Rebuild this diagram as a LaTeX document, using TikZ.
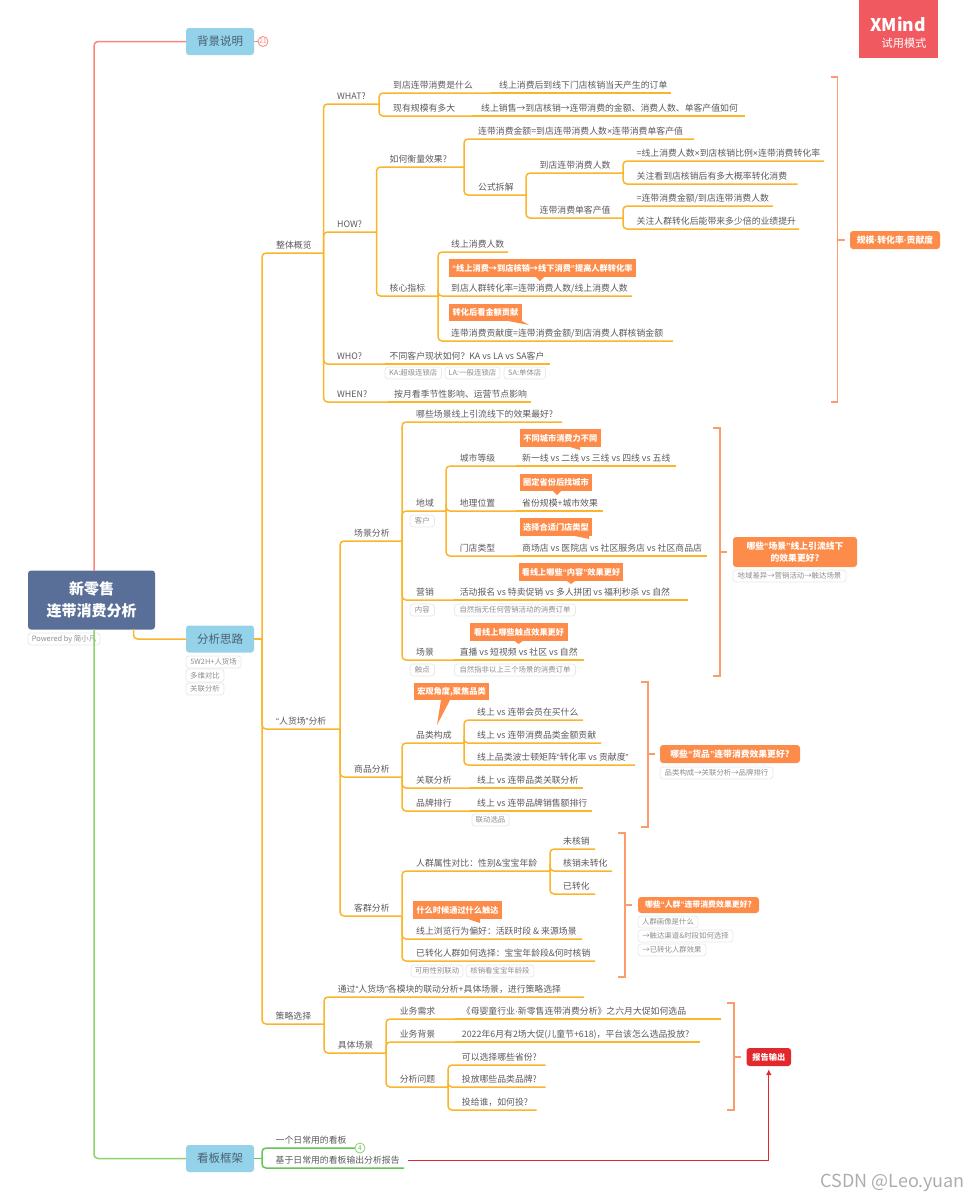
\documentclass[tikz,border=0pt]{standalone}
\usepackage{fontspec}
\usetikzlibrary{arrows.meta}
\setmainfont{Noto Sans CJK SC}
\newfontfamily\latf{Liberation Sans}
\definecolor{ora}{HTML}{FBB52A}
\definecolor{txtc}{HTML}{5A5A5A}
\definecolor{tagc}{HTML}{8E8E8E}
\definecolor{tagb}{HTML}{E8E8E8}
\definecolor{bluebox}{HTML}{93D2E8}
\definecolor{boxt}{HTML}{4A6072}
\definecolor{rootc}{HTML}{5A6F98}
\definecolor{lab}{HTML}{FD8C4A}
\definecolor{brkc}{HTML}{FB9C6C}
\definecolor{redc}{HTML}{E2282D}
\definecolor{topred}{HTML}{F9867A}
\definecolor{topgreen}{HTML}{8AD46C}
\definecolor{grn}{HTML}{62C650}
\definecolor{xm}{HTML}{F0595F}
\newcommand\qo{{\latf “}}
\newcommand\qc{{\latf ”}}
\newcommand\xx{{\latf ×}}
\newcommand\dotm{{\latf ·}}
\newcommand\fwc{\char"FF0C\relax}
\newcommand\fwq{\char"FF1F\relax}
\newcommand\fwk{\char"FF1A\relax}
\newcommand\topic[5]{\node[txt] (#1) at (#2,#3-8) {#5}; \coordinate (#1-e) at (#4,#3);}
\newcommand\link[2]{\draw[conn] (#1-e) |- (#2-e);}
\newcommand\flatl[2]{\draw[conn] (#1-e) -- (#2-e);}
\newcommand\tagb[6]{\node[tagbox,minimum width={(#3-#2)*1pt},minimum height={(#5-#4)*1pt}] (#1) at ({(#2+#3)/2},{(#4+#5)/2}) {#6};}
\newcommand\calb[6]{\node[callout,minimum width={(#3-#2)*1pt},minimum height={(#5-#4)*1pt}] (#1) at ({(#2+#3)/2},{(#4+#5)/2}) {#6};}
\newcommand\slab[6]{\node[sumlab,minimum width={(#3-#2)*1pt},minimum height={(#5-#4)*1pt}] (#1) at ({(#2+#3)/2},{(#4+#5)/2}) {#6};}
\newcommand\brk[6]{\draw[brkl] (#1,#3) -- (#2,#3) -- (#2,#4) -- (#1,#4); \draw[brkl] (#2,#5) -- ++(7,0);}
\tikzset{
 x=1pt,y=-1pt,
 txt/.style={anchor=west,inner sep=0pt,text=txtc,font=\fontsize{8.85}{11}\selectfont,text height=7.6pt,text depth=1.6pt},
 conn/.style={draw=ora,line width=1.5pt,rounded corners=4pt},
 tagbox/.style={draw=tagb,fill=white,rounded corners=3pt,inner sep=0pt,text=tagc,line width=.7pt,font=\fontsize{7.4}{9}\selectfont},
 callout/.style={fill=lab,inner sep=0pt,text=white,font=\fontsize{8.2}{10}\bfseries\selectfont},
 sumlab/.style={fill=lab,rounded corners=3pt,inner sep=0pt,text=white,align=center,font=\fontsize{8.8}{12}\bfseries\selectfont},
 brkl/.style={draw=brkc,line width=1.4pt},
 mainbox/.style={fill=bluebox,rounded corners=3pt,inner sep=0pt,minimum width=68pt,minimum height=27pt,text=boxt,font=\fontsize{11.5}{14}\selectfont},
 counter/.style={circle,fill=white,inner sep=0pt,minimum size=10pt,line width=.8pt,font=\fontsize{6.5}{7}\selectfont},
}
\begin{document}
\begin{tikzpicture}
\useasboundingbox (0,0) rectangle (968,1200);
% watermark
\node[fill=xm,minimum width=79pt,minimum height=58pt,inner sep=0pt] (xmbox) at (898.5,29) {};
\node[text=white,inner sep=0pt,font=\fontsize{17.5}{20}\bfseries\selectfont] (xmt) at (898,24) {XMind};
\node[text=white,inner sep=0pt,font=\fontsize{11.2}{13}\selectfont] (xmt2) at (904,43) {试用模式};
\node[anchor=east,inner sep=0pt,text=black!32,font=\fontsize{18}{20}\selectfont] (csdn) at (965,1183) {CSDN @Leo.yuan};
% root
\node[fill=rootc,rounded corners=3pt,minimum width=127pt,minimum height=59pt,inner sep=0pt,text=white,align=center,font=\fontsize{15}{22}\bfseries\selectfont] (root) at (91.5,600) {新零售\\连带消费分析};
\tagb{pw}{28}{100}{633}{645}{Powered by 简小凡}
\node[mainbox] (bg) at (220,41.5) {背景说明};
\node[mainbox] (fx) at (220,639) {分析思路};
\node[mainbox] (kb) at (220,1158.5) {看板框架};
\tagb{fxa}{186}{241}{656}{668}{5W2H+人货场}
\tagb{fxb}{186}{224}{669}{682}{多维对比}
\tagb{fxc}{186}{224}{683}{695}{关联分析}
\coordinate (rt) at (94,571);
\coordinate (rb) at (94,629);
\coordinate (ro) at (133.5,629);
\coordinate (fx-e) at (262,639);
\coordinate (kb-e) at (262,1158.5);
\draw[draw=topred,line width=1.5pt,rounded corners=4pt] (rt) |- (bg.west);
\draw[draw=topgreen,line width=1.5pt,rounded corners=4pt] (rb) |- (kb.west);
\draw[conn] (ro) |- (fx.west);
\draw[conn] (fx.east) -- (fx-e);
\node[counter,draw=topred,text=topred] (c21) at (263,41.5) {21};
\draw[draw=topred,line width=1pt] (bg.east) -- (c21.west);

% === overview
\topic{zt}{276}{253}{323.5}{整体概览}
\topic{what}{337}{104}{379}{WHAT?}
\topic{how}{337}{232}{376.5}{HOW?}
\topic{who}{337}{364}{385}{WHO?}
\topic{whoa}{389.5}{364}{550}{不同客户现状如何\fwq KA vs LA vs SA客户}
\topic{when}{337}{402}{388}{WHEN?}
\topic{whena}{394}{402}{531}{按月看季节性影响、运营节点影响}
\link{fx}{zt}
\link{zt}{what}\link{zt}{how}\link{zt}{who}\link{zt}{when}
\flatl{who}{whoa}\flatl{when}{whena}
\topic{w1}{393}{93}{490}{到店连带消费是什么}
\topic{w1a}{499}{93}{671}{线上消费后到线下门店核销当天产生的订单}
\topic{w2}{393}{116}{472}{现有规模有多大}
\topic{w2a}{481}{116}{745}{线上销售→到店核销→连带消费的金额、消费人数、单客产值如何}
\link{what}{w1}\link{what}{w2}\flatl{w1}{w1a}\flatl{w2}{w2a}
\topic{hm}{389.5}{167}{464}{如何衡量效果?}
\topic{hc}{389.5}{296}{438}{核心指标}
\link{how}{hm}\link{how}{hc}
\topic{m1}{478}{139}{694}{连带消费金额=到店连带消费人数\xx 连带消费单客产值}
\topic{m2}{478}{195}{526}{公式拆解}
\link{hm}{m1}\link{hm}{m2}
\topic{p1}{539.5}{173}{623}{到店连带消费人数}
\topic{p2}{539.5}{218}{623}{连带消费单客产值}
\link{m2}{p1}\link{m2}{p2}
\topic{q1}{636.5}{161}{824}{=线上消费人数\xx 到店核销比例\xx 连带消费转化率}
\topic{q2}{636.5}{184}{797.5}{关注看到店核销后有多大概率转化消费}
\topic{q3}{636.5}{206}{773}{=连带消费金额/到店连带消费人数}
\topic{q4}{636.5}{229}{799}{关注人群转化后能带来多少倍的业绩提升}
\link{p1}{q1}\link{p1}{q2}\link{p2}{q3}\link{p2}{q4}
\topic{c1}{451}{252}{508}{线上消费人数}
\topic{c2}{451}{296}{632}{到店人群转化率=连带消费人数/线上消费人数}
\topic{c3}{451}{341}{673}{连带消费贡献度=连带消费金额/到店消费人群核销金额}
\link{hc}{c1}\link{hc}{c2}\link{hc}{c3}
\calb{l1}{449}{635.5}{259}{277}{\qo 线上消费→到店核销→线下消费\qc 提高人群转化率}
\fill[lab] (536,277) -- (544,277) -- (540,281) -- cycle;
\calb{l2}{449}{522}{304}{321}{转化后看金额贡献}
\fill[lab] (508,321) -- (522,321) -- (529,325) -- cycle;
\tagb{t1}{385}{441.5}{367}{379}{KA:超级连锁店}
\tagb{t2}{445}{500}{367}{379}{LA:一般连锁店}
\tagb{t3}{504}{545.5}{367}{379}{SA:单体店}
\brk{830.5}{837.5}{77}{402}{240}{}
\slab{s1}{850}{940}{231}{249}{规模\dotm 转化率\dotm 贡献度}

% === people goods scene
\topic{rhc}{276}{729}{340}{\qo 人货场\qc 分析}
\link{fx}{rhc}
\topic{cj}{354}{541}{402}{场景分析}
\topic{sp}{354}{777}{402}{商品分析}
\topic{kq}{354}{916}{402}{客群分析}
\link{rhc}{cj}\link{rhc}{sp}\link{rhc}{kq}
\topic{cq}{416}{422}{562}{哪些场景线上引流线下的效果最好?}
\topic{dy}{416}{511}{446}{地域}
\topic{yx}{416}{600}{454}{营销}
\topic{yxa}{459.6}{600}{687.6}{活动报名 vs 特卖促销 vs 多人拼团 vs 福利秒杀 vs 自然}
\topic{cc}{416}{660}{454}{场景}
\topic{cca}{459.6}{660}{584}{直播 vs 短视频 vs 社区 vs 自然}
\link{cj}{cq}\link{cj}{dy}\link{cj}{yx}\link{cj}{cc}
\flatl{yx}{yxa}\flatl{cc}{cca}
\topic{d1}{459.6}{466}{516}{城市等级}
\topic{d1a}{522}{466}{676}{新一线 vs 二线 vs 三线 vs 四线 vs 五线}
\topic{d2}{459.6}{511}{516}{地理位置}
\topic{d2a}{522}{511}{603}{省份规模+城市效果}
\topic{d3}{459.6}{556}{516}{门店类型}
\topic{d3a}{522}{556}{707}{商场店 vs 医院店 vs 社区服务店 vs 社区商品店}
\link{dy}{d1}\link{dy}{d2}\link{dy}{d3}
\flatl{d1}{d1a}\flatl{d2}{d2a}\flatl{d3}{d3a}
\calb{l3}{520}{600.7}{429}{447}{不同城市消费力不同}
\fill[lab] (570,447) -- (580,447) -- (580,450) -- cycle;
\calb{l4}{520}{592}{474}{491}{圈定省份后找城市}
\fill[lab] (553,491) -- (561,491) -- (557,495) -- cycle;
\calb{l5}{520}{592}{518}{536}{选择合适门店类型}
\fill[lab] (575,536) -- (589,536) -- (589,539) -- cycle;
\calb{l6}{519}{623}{563}{581}{看线上哪些\qo 内容\qc 效果更好}
\fill[lab] (567,581) -- (575,581) -- (571,584) -- cycle;
\calb{l7}{470}{568}{623}{641}{看线上哪些触点效果更好}
\fill[lab] (514.6,641) -- (522.6,641) -- (518.6,644) -- cycle;
\tagb{t4}{410}{434.5}{515}{527}{客户}
\tagb{t5}{410}{434.5}{604}{616}{内容}
\tagb{t6}{454.5}{575.5}{604}{616}{自然指无任何营销活动的消费订单}
\tagb{t7}{410}{434.5}{664}{676}{触点}
\tagb{t8}{454.5}{575.5}{664}{676}{自然指非以上三个场景的消费订单}
\brk{713}{720}{428}{676}{552}{}
\slab{s2}{733}{857}{537}{567}{哪些\qo 场景\qc 线上引流线下\\的效果更好?}
\tagb{t9}{733}{846}{570}{582}{地域差异→营销活动→触达场景}

\topic{g1}{416}{743}{464}{品类构成}
\topic{g2}{416}{788}{470}{关联分析}
\topic{g2a}{477}{788}{583}{线上 vs 连带品类关联分析}
\topic{g3}{416}{811}{470}{品牌排行}
\topic{g3a}{477}{811}{592}{线上 vs 连带品牌销售额排行}
\link{sp}{g1}\link{sp}{g2}\link{sp}{g3}\flatl{g2}{g2a}\flatl{g3}{g3a}
\topic{g11}{477}{720}{583}{线上 vs 连带会员在买什么}
\topic{g12}{477}{743}{601}{线上 vs 连带消费品类金额贡献}
\topic{g13}{477}{765}{635}{线上品类波士顿矩阵\qo 转化率 vs 贡献度\qc}
\link{g1}{g11}\link{g1}{g12}\link{g1}{g13}
\calb{l8}{414}{489}{683}{700}{宏观角度,聚焦品类}
\fill[lab] (441,700) -- (450,700) -- (437,725) -- cycle;
\tagb{t10}{472}{509}{814}{826}{联动选品}
\brk{641}{648}{682}{827}{754}{}
\slab{s3}{660}{800}{745}{763}{哪些\qo 货品\qc 连带消费效果更好?}
\tagb{t11}{660}{773}{767}{779}{品类构成→关联分析→品牌排行}

\topic{k1}{416}{871}{550}{人群属性对比\fwk 性别\&宝宝年龄}
\topic{k2}{416}{939}{582}{线上浏览行为偏好\fwk 活跃时段 \& 来源场景}
\topic{k3}{416}{961}{595}{已转化人群如何选择\fwk 宝宝年龄段\&何时核销}
\link{kq}{k1}\link{kq}{k2}\link{kq}{k3}
\topic{k11}{563}{849}{595}{未核销}
\topic{k12}{563}{871}{612}{核销未转化}
\topic{k13}{563}{894}{595}{已转化}
\link{k1}{k11}\link{k1}{k12}\link{k1}{k13}
\calb{l9}{413}{502}{901}{919}{什么时候通过什么触达}
\fill[lab] (468,919) -- (480,919) -- (480,923) -- cycle;
\tagb{t12}{411}{463}{965}{977}{可用性别联动}
\tagb{t13}{466}{534}{965}{977}{核销看宝宝年龄段}
\brk{618}{625}{833}{977}{905}{}
\slab{s4}{638}{759}{897}{913}{\fontsize{7.9}{10}\bfseries\selectfont 哪些\qo 人群\qc 连带消费效果更好?}
\tagb{t14}{638}{698}{916}{928}{人群画像是什么}
\tagb{t15}{638}{733}{930}{942}{→触达渠道\&时段如何选择}
\tagb{t16}{638}{706}{944}{956}{→已转化人群效果}

% === strategy
\topic{cl}{275.5}{1024}{324}{策略选择}
\link{fx}{cl}
\topic{cl1}{337.6}{997}{584}{通过\qo 人货场\qc 各模块的联动分析+具体场景\fwc 进行策略选择}
\topic{cl2}{337.6}{1053}{386}{具体场景}
\link{cl}{cl1}\link{cl}{cl2}
\topic{b1}{399.6}{1019}{455}{业务需求}
\topic{b1a}{461.7}{1019}{721}{《母婴童行业\dotm 新零售连带消费分析》之六月大促如何选品}
\topic{b2}{399.6}{1042}{455}{业务背景}
\topic{b2a}{461.7}{1042}{700}{2022年6月有2场大促(儿童节+618)\fwc 平台该怎么选品投放?}
\topic{b3}{399.6}{1087}{448}{分析问题}
\link{cl2}{b1}\link{cl2}{b2}\link{cl2}{b3}\flatl{b1}{b1a}\flatl{b2}{b2a}
\topic{b31}{461.7}{1065}{545.5}{可以选择哪些省份?}
\topic{b32}{461.7}{1087}{545.5}{投放哪些品类品牌?}
\topic{b33}{461.7}{1110}{536.5}{投给谁\fwc 如何投?}
\link{b3}{b31}\link{b3}{b32}\link{b3}{b33}
\brk{727}{734}{1003}{1110}{1057}{}
\node[fill=redc,rounded corners=3pt,minimum width=44.5pt,minimum height=18pt,inner sep=0pt,text=white,font=\fontsize{8.2}{10}\bfseries\selectfont] (rep) at (768.8,1057) {报告输出};

% === board
\topic{ka}{275.5}{1148}{355}{一个日常用的看板}
\topic{kc}{275.5}{1168}{404}{基于日常用的看板输出分析报告}
\draw[draw=grn,line width=1.5pt] (kb.east) -- (kb-e);
\draw[draw=grn,line width=1.5pt,rounded corners=4pt] (kb-e) |- (ka-e);
\draw[draw=grn,line width=1.5pt,rounded corners=4pt] (kb-e) |- (kc-e);
\node[counter,draw=topgreen,text=grn] (c4) at (360,1148) {4};
\coordinate (arrS) at (408,1160.5);
\draw[draw=redc,line width=1.2pt,-{Latex[length=6pt,width=6pt]}] (arrS) -| ([yshift=-3pt]rep.south);
\end{tikzpicture}
\end{document}
